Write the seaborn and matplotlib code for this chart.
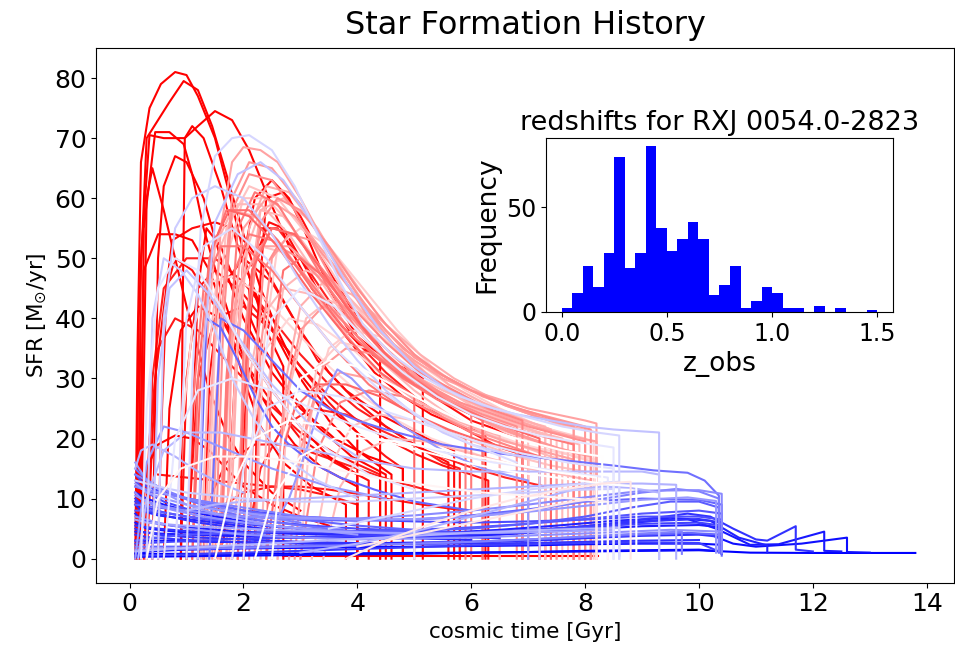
import matplotlib
matplotlib.use("Agg")
import matplotlib.pyplot as plt
import pandas as pd
import seaborn as sns

# ---------------- data ----------------
# Star-formation histories: knots (cosmic time [Gyr], SFR [Msun/yr]) and colour value (0=blue .. 1=red)
CURVE_TIME = [
    # bright / medium red
    [0.1, 0.14, 0.2, 0.35, 0.55, 0.8, 1.0, 1.2, 1.5, 1.8, 2.1, 2.4, 2.7, 2.7],
    [0.12, 0.16, 0.3, 0.5, 0.7, 0.95, 1.2, 1.45, 1.7, 2.0, 2.3, 2.6, 3.0, 3.5, 4.0, 4.6, 4.6],
    [0.15, 0.2, 0.35, 0.6, 0.97, 1.2, 1.5, 1.8, 2.1, 2.4, 2.8, 3.2, 3.6, 4.0, 4.4, 4.4],
    [0.18, 0.25, 0.45, 0.7, 0.95, 1.1, 1.3, 1.6, 1.9, 2.2, 2.5, 2.9, 3.4, 4.0, 4.0],
    [0.2, 0.3, 0.4, 0.6, 0.8, 1.0, 1.2, 1.4, 1.7, 2.0, 2.5, 3.0],
    [0.15, 0.25, 0.5, 0.8, 1.1, 1.4, 1.7, 2.0, 2.3, 2.7, 3.2, 3.8, 3.8],
    [0.3, 0.45, 0.75, 1.1, 1.5, 1.8, 2.1, 2.4, 2.7, 3.0, 3.3, 3.8, 4.4, 5.0, 5.7, 5.7],
    [0.9, 0.93, 0.97, 1.1, 1.3, 1.6, 1.9, 2.3, 2.8, 3.4, 4.0, 4.0],
    [0.15, 0.3, 0.5, 0.8, 1.1, 1.4, 1.7, 2.0, 2.5, 3.0, 3.5],
    [1.5, 1.65, 1.75, 1.85, 2.0, 2.2, 2.5, 2.8, 3.1, 3.5, 4.0, 4.5, 5.0, 5.15, 5.15],
    [1.8, 1.95, 2.05, 2.2, 2.45, 2.7, 3.0, 3.4, 3.8, 4.3, 4.8, 5.3, 5.8, 6.25, 6.25],
    [2.2, 2.25, 2.4, 2.7, 3.0, 3.5, 4.0, 4.5, 5.0, 5.5, 6.0, 6.9, 6.9],
    [0.4, 0.45, 0.5, 0.6, 0.8, 1.0, 1.3, 1.6, 2.0, 2.5, 3.0, 3.6, 4.2, 4.8, 4.8],
    [1.0, 1.1, 1.2, 1.35, 1.6, 1.9, 2.3, 2.8, 3.3, 3.9, 4.5, 4.5],
    [0.5, 0.55, 0.65, 0.8, 1.1, 1.5, 2.0, 2.5, 3.0, 3.6, 4.2, 4.2],
    [2.0, 2.1, 2.3, 2.6, 3.0, 3.5, 4.0, 4.5, 5.0, 5.5, 6.0, 6.5, 7.0, 7.0],
    [0.3, 0.4, 0.6, 1.0, 1.5, 2.0, 2.5, 3.0, 3.5, 4.0, 4.5, 5.0, 5.5, 5.8, 5.8],
    [1.0, 1.2, 1.5, 2.0, 2.5, 3.0, 3.5, 4.0, 4.5, 4.8, 4.8],
    [0.5, 1.0, 1.5, 2.0, 2.5, 3.0, 3.5, 4.0],
    [0.6, 0.7, 0.9, 1.2, 1.6, 2.0, 2.5, 3.0, 3.5, 4.0, 4.0],
    [1.3, 1.4, 1.6, 2.0, 2.5, 3.0, 3.5, 4.0, 4.5, 5.0, 5.6, 5.6],
    [0.25, 0.35, 0.5, 0.8, 1.2, 1.7, 2.3, 3.0, 3.7, 4.4, 4.4],
    [2.0, 2.3, 2.7, 3.2, 3.8, 4.5, 5.2, 5.9, 6.6, 7.3, 7.3],
    [1.5, 2.0, 2.5, 3.0, 3.5, 4.0, 4.5, 5.0, 5.5, 6.0],
    [2.7, 4.0, 5.5, 7.0, 8.22],
    [0.9, 1.0, 1.2, 1.5, 2.0, 2.5, 3.0, 3.5, 4.0, 4.5, 5.0, 5.5, 6.0, 6.3, 6.3],
    [1.2, 1.4, 1.7, 2.2, 2.8, 3.4, 4.0, 4.6, 5.2, 5.8, 5.8],
    # pink bundle
    [1.3, 1.45, 1.6, 1.8, 2.0, 2.3, 2.6, 3.0, 3.4, 3.8, 4.2, 4.6, 5.0, 5.5, 6.0, 6.5, 7.0, 7.5, 8.0, 8.2, 8.2],
    [1.5, 1.65, 1.8, 2.1, 2.5, 2.9, 3.3, 3.7, 4.1, 4.6, 5.2, 5.8, 6.4, 7.0, 7.6, 8.0, 8.0],
    [1.6, 1.75, 1.9, 2.2, 2.6, 3.0, 3.5, 4.0, 4.5, 5.0, 5.6, 6.2, 6.8, 7.4, 7.8, 7.8],
    [1.7, 1.85, 2.0, 2.3, 2.7, 3.1, 3.6, 4.1, 4.6, 5.2, 5.8, 6.4, 7.0, 7.6, 7.6],
    [1.9, 2.0, 2.15, 2.5, 2.9, 3.3, 3.8, 4.3, 4.8, 5.4, 6.0, 6.6, 7.2, 7.2],
    [1.4, 1.5, 1.7, 2.0, 2.4, 2.8, 3.2, 3.7, 4.2, 4.8, 5.4, 6.0, 6.6, 7.0, 7.0],
    [2.1, 2.2, 2.35, 2.6, 3.0, 3.5, 4.0, 4.5, 5.0, 5.6, 6.2, 6.8, 6.8],
    [1.2, 1.3, 1.5, 1.8, 2.2, 2.6, 3.0, 3.5, 4.0, 4.5, 5.0, 5.5, 6.0, 6.5, 6.5],
    [2.4, 2.5, 2.7, 3.0, 3.4, 3.9, 4.4, 5.0, 5.6, 6.2, 6.2],
    [1.8, 2.0, 2.3, 2.7, 3.2, 3.8, 4.4, 5.0, 5.6, 6.2, 6.8, 7.4, 8.0, 8.0],
    [2.5, 2.7, 3.0, 3.4, 3.9, 4.5, 5.1, 5.7, 6.3, 6.9, 7.5, 7.5],
    [1.0, 1.1, 1.3, 1.6, 2.0, 2.5, 3.0, 3.6, 4.2, 4.8, 5.4, 5.9, 5.9],
    [2.8, 3.0, 3.3, 3.7, 4.2, 4.8, 5.4, 6.0, 6.6, 7.2, 7.8, 8.2, 8.2],
    [0.8, 0.9, 1.1, 1.4, 1.8, 2.3, 2.9, 3.5, 4.1, 4.7, 5.3, 5.9, 6.5, 6.5],
    [1.55, 1.7, 1.9, 2.3, 2.8, 3.4, 4.0, 4.6, 5.2, 5.8, 6.4, 7.0, 7.6, 8.1, 8.1],
    [3.0, 3.3, 3.7, 4.2, 4.8, 5.4, 6.0, 6.6, 7.2, 7.2],
    [1.1, 1.25, 1.45, 1.75, 2.1, 2.6, 3.2, 3.8, 4.4, 5.0, 5.0],
    [2.2, 2.35, 2.6, 3.0, 3.5, 4.1, 4.7, 5.3, 5.9, 6.5, 7.1, 7.7, 8.15, 8.15],
    [1.9, 2.05, 2.3, 2.7, 3.2, 3.8, 4.4, 5.0, 5.6, 6.2, 6.8, 7.4, 7.4],
    [2.6, 2.8, 3.1, 3.5, 4.0, 4.6, 5.2, 5.8, 6.4, 7.0, 7.7, 7.7],
    [2.3, 2.45, 2.7, 3.1, 3.6, 4.2, 4.8, 5.4, 6.0, 6.6, 7.2, 7.9, 7.9],
    [1.7, 1.8, 2.0, 2.4, 2.9, 3.5, 4.1, 4.7, 5.3, 5.9, 6.5, 7.1, 7.7, 8.2, 8.2],
    [1.35, 1.5, 1.7, 2.1, 2.6, 3.2, 3.8, 4.4, 5.0, 5.6, 6.2, 6.8, 7.3, 7.3],
    [2.0, 2.15, 2.4, 2.8, 3.3, 3.9, 4.5, 5.1, 5.7, 6.3, 6.9, 7.6, 8.2, 8.2],
    [3.2, 3.5, 3.9, 4.4, 5.0, 5.6, 6.2, 6.8, 7.4, 8.0, 8.0],
    [2.9, 3.1, 3.4, 3.8, 4.3, 4.9, 5.5, 6.1, 6.7, 7.3, 7.9, 7.9],
    [1.6, 1.7, 1.85, 2.1, 2.5, 3.0, 3.6, 4.2, 4.8, 5.4, 6.0, 6.0],
    [2.4, 2.6, 2.9, 3.3, 3.8, 4.4, 5.0, 5.6, 6.2, 6.8, 7.4, 7.4],
    [1.45, 1.6, 1.8, 2.1, 2.5, 3.0, 3.5, 4.0, 4.5, 5.0, 5.6, 6.2, 6.8, 7.4, 8.0, 8.0],
    [1.75, 1.9, 2.1, 2.4, 2.8, 3.3, 3.8, 4.3, 4.8, 5.4, 6.0, 6.6, 7.2, 7.8, 7.8],
    [2.0, 2.1, 2.3, 2.6, 3.0, 3.5, 4.0, 4.5, 5.0, 5.5, 6.0, 6.5, 7.0, 7.5, 8.1, 8.1],
    [1.25, 1.4, 1.6, 1.9, 2.3, 2.8, 3.3, 3.8, 4.3, 4.9, 5.5, 6.1, 6.7, 7.3, 7.3],
    [2.2, 2.3, 2.5, 2.8, 3.2, 3.7, 4.2, 4.8, 5.4, 6.0, 6.6, 7.2, 7.8, 7.8],
    [2.6, 2.75, 3.0, 3.4, 3.9, 4.5, 5.1, 5.7, 6.3, 6.9, 7.5, 8.2, 8.2],
    [1.9, 2.0, 2.2, 2.5, 2.9, 3.4, 3.9, 4.5, 5.1, 5.7, 6.3, 6.9, 6.9],
    [3.0, 3.2, 3.5, 3.9, 4.4, 5.0, 5.6, 6.2, 6.8, 7.4, 8.0, 8.0],
    [1.6, 1.75, 1.95, 2.3, 2.7, 3.2, 3.8, 4.4, 5.0, 5.6, 6.2, 6.8, 7.5, 7.5],
    [2.8, 3.0, 3.3, 3.7, 4.2, 4.8, 5.4, 6.0, 6.6, 7.2, 7.8, 7.8],
    [3.4, 3.7, 4.1, 4.6, 5.2, 5.8, 6.4, 7.0, 7.6, 8.1, 8.1],
    [1.1, 1.2, 1.4, 1.7, 2.1, 2.6, 3.2, 3.8, 4.4, 5.0, 5.6, 6.2, 6.2],
    # light blue / white
    [1.0, 1.1, 1.25, 1.5, 1.8, 2.1, 2.5, 2.9, 3.3, 3.7, 4.1, 4.6, 5.2, 5.8, 6.4, 7.0, 7.6, 8.2, 8.6, 8.6],
    [0.5, 0.6, 0.8, 1.1, 1.5, 2.0, 2.5, 3.0, 3.5, 4.0, 4.5, 5.0, 5.5, 6.0, 6.6, 7.2, 7.2],
    [1.2, 1.3, 1.5, 1.9, 2.3, 2.7, 3.2, 3.8, 4.4, 5.0, 5.6, 6.2, 6.8, 7.4, 8.0, 8.5, 9.3, 9.3],
    [0.1, 0.3, 0.6, 1.0, 1.5, 2.0, 2.5, 3.5, 4.5],
    [0.3, 0.4, 0.6, 0.9, 1.2, 1.5, 1.8, 2.2, 2.7, 3.3, 4.0],
    [2.0, 2.2, 2.5, 3.0, 3.6, 4.2, 4.8, 5.4, 6.0, 6.6, 7.2, 7.8, 8.5, 8.5],
    [2.5, 2.7, 3.0, 3.5, 4.0, 4.6, 5.2, 5.8, 6.4, 7.0, 7.6, 8.3, 8.3],
    [0.2, 0.3, 0.5, 0.8, 1.2, 1.6, 2.0, 2.5, 3.0, 3.5, 4.2, 5.0, 5.0],
    [3.5, 4.0, 5.0, 6.0, 7.0, 8.0, 8.6, 8.6],
    [0.1, 0.5, 1.0, 2.0, 3.0, 4.0, 5.0, 6.0, 7.0, 8.0, 8.5],
    [3.0, 4.0, 5.0, 6.0, 7.0, 7.8, 8.3, 8.8, 9.3, 9.3],
    [4.0, 5.0, 6.0, 7.0, 7.8, 8.2, 8.2],
    [0.6, 0.8, 1.2, 1.8, 2.5, 3.2, 4.0, 4.8, 5.6, 6.4, 7.2, 8.0, 8.4, 8.4],
    [1.5, 1.8, 2.2, 2.8, 3.5, 4.3, 5.1, 5.9, 6.7, 7.5, 8.3, 8.9, 8.9],
    [0.3, 0.5, 0.9, 1.5, 2.2, 3.0, 3.8, 4.6, 5.4, 6.2, 7.0, 7.8, 8.4, 8.4],
    [0.8, 1.0, 1.3, 1.8, 2.4, 3.0, 3.6, 4.4, 5.2, 6.0, 6.8],
    [0.4, 0.5, 0.7, 1.0, 1.4, 1.9, 2.5, 3.2, 4.0],
    [3.8, 4.5, 5.2, 6.0, 6.8, 7.6, 8.3, 8.8, 8.8],
    [1.0, 1.5, 2.0, 3.0, 4.0, 5.0, 6.0, 7.0, 8.0, 9.0, 9.6, 9.6],
    [1.8, 2.0, 2.4, 3.0, 3.7, 4.5, 5.3, 6.1, 6.9, 7.7, 8.5, 8.5],
    [2.2, 2.5, 3.0, 3.6, 4.3, 5.0, 5.8, 6.6, 7.4, 8.2, 8.2],
    [0.15, 0.3, 0.6, 1.0, 1.6, 2.4, 3.2, 4.0, 5.0, 6.0, 7.0, 8.0, 9.0, 9.3, 9.3],
    # blue
    [0.1, 2.0, 4.0, 6.0, 8.0, 10.0, 10.9, 12.0, 12.8, 13.8],
    [0.1, 0.3, 0.6, 1.0, 1.5, 2.0, 3.0, 4.0, 5.0, 6.0, 7.0, 8.0, 9.0, 10.0, 10.4, 10.4],
    [0.1, 0.3, 0.7, 1.2, 2.0, 3.0, 4.0, 5.0, 6.0, 7.0, 8.0, 9.0, 9.8, 10.2, 10.6, 11.0, 11.2, 11.7, 11.7, 12.0],
    [1.4, 1.6, 2.0, 2.5, 3.0, 3.5, 4.0, 4.5, 5.5, 6.5, 7.5, 8.5, 9.2, 9.8, 10.1, 10.35, 10.35],
    [0.1, 0.5, 1.0, 2.0, 3.0, 4.0, 5.0, 6.0, 7.0, 8.0, 9.0, 9.6, 10.0, 10.35, 10.35],
    [0.1, 0.4, 1.0, 2.0, 3.0, 4.0, 5.0, 6.0, 7.0, 8.0, 8.8, 9.5, 10.0, 10.35, 10.35],
    [0.1, 0.3, 0.8, 1.5, 2.5, 3.5, 4.5, 5.5, 6.5, 7.5, 8.5, 9.3, 9.8, 10.3, 10.9, 11.4, 12.2, 12.2, 12.5],
    [0.1, 0.5, 1.5, 3.0, 4.5, 6.0, 7.5, 8.5, 9.5, 10.2, 10.6, 11.0, 11.8, 12.6, 12.6, 13.0],
    [0.1, 0.3, 0.6, 1.0, 1.5, 2.0, 2.5, 3.0, 3.5, 4.0],
    [0.1, 0.2, 0.5, 1.0, 1.5, 2.0, 2.5, 3.0, 4.0, 5.0, 6.0],
    [0.1, 0.4, 0.8, 1.3, 2.0, 3.0, 4.0, 5.0],
    [0.1, 0.2, 0.5, 1.0, 2.0, 3.0, 4.0, 5.0, 6.0, 7.0, 8.0, 9.0, 10.0],
    [2.5, 2.8, 3.1, 3.4, 3.65, 3.9, 4.3, 4.8, 5.5, 6.2, 7.0, 7.0],
    [1.2, 1.35, 1.6, 1.9, 2.2, 2.5, 2.8, 3.2, 3.7, 4.3, 5.0, 6.0],
    [0.1, 0.2, 0.4, 0.8, 1.2, 1.6, 2.0],
    [0.1, 1.0, 2.0, 3.0, 4.0, 5.0, 6.0, 7.0, 8.0, 9.0, 9.7, 9.7],
    [0.1, 1.0, 2.0, 3.0, 4.0, 5.0, 6.0, 7.0, 8.0, 9.0, 10.0, 10.4],
    [0.1, 0.5, 1.0, 2.0, 3.0, 4.0, 6.0, 8.0, 9.5, 10.4],
    [0.1, 0.3, 0.6, 1.0, 1.5, 2.5, 3.5, 4.5, 5.5],
    [0.1, 0.5, 1.0, 2.0, 3.0, 4.0, 5.0, 6.0, 7.0, 8.0, 9.0, 10.0, 10.4, 10.4],
    [0.1, 0.3, 0.7, 1.2, 2.0, 3.0, 4.0, 5.0, 6.0, 7.0, 8.0, 9.0, 10.0, 10.4, 10.4],
    [0.1, 0.2, 0.5, 1.0, 1.8, 2.6, 3.5, 4.5, 5.5, 6.5, 7.5, 8.5, 9.5, 10.2, 10.7, 11.2, 11.2],
    [0.1, 0.3, 0.6, 1.0, 1.6, 2.4, 3.2, 4.0, 5.0, 6.0],
    [0.1, 0.4, 1.0, 2.0, 3.0, 4.0, 5.0, 6.0, 7.0, 8.0, 9.0, 9.8, 10.4, 10.4],
    [0.1, 0.5, 1.0, 1.5, 2.0, 3.0, 4.0, 5.0, 6.0, 7.0, 8.0, 9.0, 10.0, 10.4],
    [0.1, 0.3, 0.6, 1.0, 1.5, 2.0, 3.0, 4.0, 5.0, 6.0, 7.0, 8.0, 9.0, 10.0, 10.4, 10.4],
    [0.1, 0.2, 0.4, 0.7, 1.1, 1.6, 2.2, 3.0, 4.0],
    [0.1, 0.5, 1.0, 2.0, 3.0, 4.0, 5.0, 6.0, 7.0, 8.0, 9.0, 10.0, 10.4, 10.4],
    [0.1, 0.3, 0.8, 1.5, 2.5, 3.5, 4.5, 5.5, 6.5, 7.5, 8.5],
    [0.1, 0.3, 0.6, 1.0, 1.5, 2.2, 3.0, 4.0, 5.0, 6.0, 7.0, 8.0, 9.0, 9.8, 10.3, 10.3],
    [0.1, 0.3, 0.6, 1.0, 1.6, 2.4, 3.4, 4.5, 5.5, 6.5],
    [0.1, 0.5, 1.0, 2.0, 3.0, 4.0, 5.0, 6.0, 7.0, 8.0, 9.0, 10.0, 10.4, 10.4],
    [0.1, 0.4, 1.0, 2.0, 3.0, 4.0, 5.0, 6.0, 7.0, 8.0, 8.6, 8.6],
    [0.1, 0.2, 0.4, 0.8, 1.3, 2.0, 2.8, 3.8, 5.0],
    [0.1, 0.3, 0.7, 1.2, 2.0, 3.0, 4.0, 5.0, 6.0, 7.0, 8.0, 9.0, 10.0, 10.4, 10.4],
    [0.1, 1.0, 2.0, 3.0, 4.0, 5.0, 6.0, 7.0, 8.0, 9.0, 10.0, 10.4],
    [0.1, 0.3, 0.6, 1.0, 1.4, 1.8, 2.3, 3.0],
    [0.1, 0.5, 1.0, 2.0, 3.0, 4.0, 5.0, 6.0, 7.0, 8.0, 9.0, 10.0, 10.4, 10.4],
]

CURVE_SFR = [
    # bright / medium red
    [0, 35, 66, 75, 79, 81, 80.5, 77, 70, 59, 47, 38, 32, 0],
    [0, 40, 70, 73, 76, 79.5, 78, 72, 64, 54, 45, 38, 30, 23, 18, 14, 0],
    [0, 50, 70.5, 70, 70, 72, 74.5, 73, 68, 61, 52, 45, 40, 36, 33, 0],
    [0, 55, 71, 71, 69, 64, 55, 45, 36, 29, 24, 19, 15, 12, 0],
    [0, 60, 65, 58, 50, 42, 35, 28, 21, 16, 11, 8],
    [0, 48, 54, 54, 53, 48, 40, 30, 22, 16, 12, 9, 0],
    [0, 30, 53, 55, 56, 55, 52, 48, 43, 38, 33, 28, 24, 21, 18, 0],
    [0, 40, 70, 72, 70, 62, 52, 42, 33, 26, 21, 0],
    [0, 15, 19, 20.5, 20, 18, 15, 12, 9, 7, 5.5],
    [0, 3, 12, 30, 50, 60, 63, 60, 54, 45, 37, 33, 31, 30, 0],
    [0, 10, 30, 50, 56, 55, 50, 43, 37, 31, 27, 24, 22, 21, 0],
    [0, 40, 60, 61, 57, 48, 40, 34, 29, 26, 23, 20, 0],
    [0, 25, 50, 62, 67, 66, 60, 50, 40, 31, 25, 20, 17, 15, 0],
    [0, 20, 45, 55, 52, 45, 36, 28, 22, 17, 14, 0],
    [0, 20, 45, 50, 48, 42, 33, 26, 20, 16, 13, 0],
    [0, 45, 55, 55, 50, 43, 36, 31, 27, 23.5, 21, 18.5, 17, 0],
    [0, 30, 45, 50, 50, 46, 40, 34, 29, 25, 22, 19, 16, 15, 0],
    [0, 30, 40, 42, 38, 32, 26, 21, 17, 15, 0],
    [14, 13.5, 13, 12.5, 12, 11.5, 10.5, 9],
    [0, 25, 38, 42, 40, 35, 28, 22, 17, 14, 0],
    [0, 30, 45, 50, 46, 38, 31, 26, 22, 19, 16, 0],
    [0, 20, 35, 40, 38, 33, 27, 21, 17, 14, 0],
    [0, 15, 22, 25, 24, 21, 18, 15.5, 13.5, 12, 0],
    [8, 11, 12, 12, 11.5, 10.8, 10, 9.2, 8.5, 7.8],
    [0.4, 0.4, 0.4, 0.4, 0.4],
    [0, 30, 45, 48, 44, 38, 32, 27, 23, 20, 17.5, 15.5, 14, 13, 0],
    [0, 10, 16, 19, 19, 17, 15, 13, 11.5, 10, 0],
    # pink bundle
    [0, 30, 55, 66, 68.5, 68, 66, 60, 53, 46, 40, 36, 33, 30, 28, 26.5, 25, 24, 23, 22.5, 0],
    [0, 40, 58, 64, 63, 58, 51, 44, 38, 33, 29, 26, 24, 22, 20.5, 19.5, 0],
    [0, 35, 55, 61, 59, 53, 45, 38, 33, 29, 26, 23.5, 21.5, 20, 19, 0],
    [0, 30, 50, 58, 57, 52, 45, 38, 33, 29, 26, 23.5, 21.5, 20, 0],
    [0, 25, 48, 55, 54, 49, 42, 36, 31, 27, 24, 22, 20, 0],
    [0, 25, 50, 60, 60, 56, 50, 42, 36, 31, 27, 24.5, 22.5, 21.5, 0],
    [0, 30, 48, 52, 50, 45, 39, 34, 30, 26.5, 24, 22, 0],
    [0, 30, 52, 58, 57, 53, 48, 41, 35, 30, 26.5, 24, 22, 20.5, 0],
    [0, 35, 48, 50, 47, 41, 35, 30, 26, 23, 0],
    [0, 25, 40, 45, 44, 39, 33, 28, 24, 21, 19, 17, 15.5, 0],
    [0, 25, 38, 42, 40, 35, 30, 26, 23, 20.5, 18.5, 0],
    [0, 25, 45, 52, 52, 48, 42, 35, 29, 25, 22, 20, 0],
    [0, 20, 32, 36, 35, 31, 27, 24, 21, 19, 17, 16, 0],
    [0, 20, 38, 46, 47, 44, 38, 32, 27, 23, 20, 18, 16, 0],
    [0, 28, 45, 52, 52, 47, 40, 34, 29, 25, 22, 20, 18, 17, 0],
    [0, 18, 26, 28, 27, 24, 21, 19, 17, 0],
    [0, 30, 52, 58, 57, 52, 44, 37, 31, 27, 0],
    [0, 35, 52, 55, 52, 45, 38, 32, 28, 25, 22.5, 20.5, 19.5, 0],
    [0, 40, 58, 60, 56, 48, 40, 34, 29, 26, 23.5, 21.5, 0],
    [0, 28, 40, 43, 41, 36, 31, 27, 24, 21.5, 19.5, 0],
    [0, 30, 45, 48, 46, 40, 34, 29, 25.5, 23, 21, 19, 0],
    [0, 38, 55, 60, 57, 50, 42, 35, 30, 26.5, 24, 22, 20.5, 19.5, 0],
    [0, 35, 55, 62, 60, 53, 44, 37, 32, 28, 25, 23, 21.5, 0],
    [0, 20, 35, 40, 39, 35, 30, 26, 23, 21, 19, 17.5, 16.5, 0],
    [0, 15, 22, 24, 23, 21, 19, 17, 15.5, 14.5, 0],
    [0, 22, 32, 35, 34, 30, 26.5, 23.5, 21, 19, 17.5, 0],
    [0, 30, 48, 54, 53, 48, 41, 35, 30, 26.5, 24, 0],
    [0, 15, 25, 29, 29, 27, 24, 21.5, 19.5, 18, 16.5, 0],
    [0, 40, 60, 66, 65, 59, 51, 44, 38, 33.5, 30, 27, 25, 23.5, 22, 0],
    [0, 35, 55, 62, 61, 55, 47, 40, 35, 31, 28, 25.5, 23.5, 22, 0],
    [0, 40, 56, 60, 58, 52, 45, 39, 34, 30.5, 28, 26, 24.5, 23, 21.5, 0],
    [0, 35, 52, 59, 59, 54, 47, 40, 35, 31, 28, 25.5, 23.5, 22, 0],
    [0, 35, 50, 54, 53, 47, 41, 35, 31, 28, 25.5, 23.5, 22, 0],
    [0, 30, 42, 46, 44, 39, 34, 30, 27, 24.5, 22.5, 21, 0],
    [0, 35, 50, 55, 54, 48, 42, 36, 31, 28, 25, 23, 0],
    [0, 25, 35, 38, 37, 33, 29, 26, 23.5, 21.5, 20, 0],
    [0, 30, 46, 52, 51, 46, 39, 33, 29, 26, 23.5, 21.5, 20, 0],
    [0, 18, 28, 31, 30, 27, 24, 21.5, 19.5, 18, 16.5, 0],
    [0, 12, 18, 20, 19.5, 18, 16.5, 15, 14, 13, 0],
    [0, 30, 50, 58, 58, 53, 45, 38, 33, 29, 26, 23.5, 0],
    # light blue / white
    [0, 30, 55, 67, 70, 70.5, 68, 62, 54, 46, 39, 34, 30, 27, 25, 23.5, 22, 21, 20.5, 0],
    [0, 40, 55, 60, 62, 60, 54, 46, 39, 33, 28, 24, 21, 19, 17.5, 16.5, 0],
    [0, 35, 56, 64, 66, 63, 56, 46, 38, 32, 28, 25.5, 24, 23, 22, 21.5, 21, 0],
    [0, 16, 22, 21, 19, 17, 15, 12, 10],
    [0, 40, 50, 48, 44, 38, 30, 23, 17, 13, 10],
    [0, 25, 40, 45, 42, 36, 31, 27, 24, 22, 20.5, 19.5, 18.5, 0],
    [0, 20, 30, 33, 32, 29, 26, 23, 21, 19.5, 18, 17, 0],
    [0, 25, 45, 50, 48, 42, 35, 28, 22, 18, 14, 11.5, 0],
    [5, 6, 8, 10, 11.5, 12.5, 12.8, 0],
    [13, 12, 11, 10, 9.5, 9.5, 10, 10.5, 11, 11.5, 11.6],
    [1, 2.5, 4.5, 7, 9.5, 11.5, 12, 11.8, 11, 0],
    [2, 4, 6, 8, 9.5, 10, 0],
    [0, 20, 28, 30, 28, 25, 22, 19.5, 17.5, 16, 15, 14, 13.5, 0],
    [0, 12, 20, 23, 22, 20, 18, 16, 14.5, 13.5, 12.5, 12, 0],
    [0, 10, 15, 17, 17, 16, 14.5, 13, 12, 11, 10.5, 10, 9.5, 0],
    [0, 40, 52, 55, 50, 42, 35, 28, 23, 19, 16],
    [0, 30, 45, 48, 44, 37, 29, 22, 17],
    [0, 3, 5.5, 8, 10, 11.5, 12.5, 12.8, 0],
    [8, 9, 9.5, 10, 10.5, 11, 11.5, 12, 12.5, 12.5, 12.3, 0],
    [0, 15, 25, 28, 27, 24.5, 22, 19.5, 17.5, 16, 15, 0],
    [0, 10, 17, 20, 20, 19, 17.5, 16, 14.5, 13.5, 0],
    [0, 10, 18, 21, 21, 19.5, 18, 16.5, 15, 14.5, 14.5, 14.5, 14.5, 14, 0],
    # blue
    [0.8, 0.8, 0.9, 1.0, 1.2, 1.4, 1.0, 0.95, 0.95, 0.95],
    [14, 12, 11, 10, 9, 8, 7, 6.5, 6.2, 6, 6.2, 6.5, 7, 7, 6.5, 1],
    [10, 8, 7, 6, 5, 4.5, 4, 4, 4.2, 4.6, 5.4, 6.5, 7.5, 7, 5, 3.2, 3, 5.4, 1.5, 1.2],
    [0, 40, 38, 33, 28, 25, 23, 21.5, 19, 17.5, 16.5, 15.5, 14.7, 14.3, 13, 10.5, 1.5],
    [12, 11, 10, 8.5, 7, 6.5, 6.5, 7, 8, 9.5, 11, 11.6, 11.2, 10, 1.2],
    [8, 8, 7, 6, 5, 4.5, 4.6, 5, 5.8, 7, 8.5, 9.5, 9.5, 8.5, 1],
    [6, 5, 4.5, 4, 3.6, 3.4, 3.4, 3.6, 4, 4.7, 5.6, 6.4, 6.6, 5, 2.3, 2.4, 4.5, 1.3, 1.2],
    [3, 3, 2.8, 2.6, 2.6, 2.8, 3.2, 3.8, 4.3, 4.0, 2.5, 2, 2.5, 3.5, 1.1, 1.0],
    [16, 13, 11, 9, 7.5, 6.5, 5.5, 5, 4.5, 4],
    [9, 8, 7.2, 6.6, 6, 5.4, 4.8, 4.4, 3.8, 3.4, 3.1],
    [12, 11, 10.5, 9.5, 8, 6.5, 5.5, 4.8],
    [5, 4.5, 4, 3.6, 3.2, 2.8, 2.6, 2.5, 2.5, 2.6, 2.8, 3, 3.1],
    [5, 10, 18, 27, 31.5, 30, 26, 22, 18, 15, 13, 0],
    [0, 40, 38.5, 33, 27, 22, 19, 16, 13.5, 11.5, 9.5, 8],
    [15, 18, 19, 17, 14.5, 12.5, 11],
    [1.5, 1.6, 1.8, 2, 2.2, 2.5, 2.8, 3.2, 3.7, 4.2, 4.5, 0.8],
    [0.5, 0.7, 1, 1.3, 1.6, 1.9, 2.2, 2.4, 2.6, 2.7, 2.6, 1.0],
    [7, 6, 5, 4, 3.5, 3.2, 3.5, 4.2, 4.8, 4.5],
    [11, 10, 9, 8, 7, 5.5, 4.5, 3.8, 3.3],
    [9, 8.5, 8, 7, 6.5, 6.3, 6.5, 7.2, 8.2, 9.5, 10, 9.8, 9, 1],
    [4, 3.6, 3.3, 3, 2.7, 2.5, 2.4, 2.5, 2.7, 3.0, 3.4, 3.8, 4.0, 3.6, 0.8],
    [7.5, 6.5, 5.8, 5.2, 4.6, 4.2, 4, 4, 4.3, 4.8, 5.5, 6.3, 6.8, 6.3, 3.5, 2.2, 1.0],
    [13, 11, 9.5, 8.3, 7.2, 6.2, 5.5, 5, 4.6, 4.3],
    [2, 2, 2, 2, 2.1, 2.3, 2.5, 2.8, 3.2, 3.6, 4.0, 4.3, 4.0, 0.5],
    [1, 1.3, 1.5, 1.6, 1.7, 1.8, 1.9, 2, 2.1, 2.2, 2.4, 2.5, 2.5, 2.3],
    [10.5, 9.5, 8.7, 8, 7.4, 7, 6.6, 6.7, 7.2, 8, 9, 10.2, 11.3, 11.4, 10.8, 1],
    [15, 14, 12.5, 11, 9.5, 8, 6.5, 5.5, 4.5],
    [3, 3.5, 4, 4.3, 4.5, 4.6, 4.8, 5.2, 5.8, 6.6, 7.5, 8, 7.5, 0.9],
    [6.5, 6, 5.6, 5.2, 4.8, 4.5, 4.3, 4.2, 4.3, 4.5, 4.8],
    [12.5, 11, 10, 9, 8.2, 7.4, 6.8, 6.5, 6.6, 7, 7.8, 8.8, 9.8, 10.2, 9.6, 1],
    [9.5, 8.5, 7.7, 7, 6.2, 5.4, 4.7, 4.1, 3.7, 3.4],
    [5.5, 5, 4.6, 4, 3.6, 3.5, 3.6, 4, 4.6, 5.4, 6.2, 6.6, 6, 1],
    [1.2, 1.4, 1.8, 2.3, 2.8, 3.3, 3.8, 4.3, 4.7, 5.0, 5.1, 0.5],
    [11, 10, 9, 8, 7, 6, 5.2, 4.5, 4],
    [2.5, 2.6, 2.8, 3.0, 3.3, 3.6, 3.8, 4.1, 4.4, 4.8, 5.3, 5.8, 6.0, 5.5, 1],
    [0.3, 0.4, 0.5, 0.6, 0.7, 0.8, 1.0, 1.1, 1.3, 1.4, 1.5, 1.2],
    [14, 13, 11.5, 10, 9, 8, 7, 6],
    [4.5, 4.2, 4.0, 3.7, 3.5, 3.4, 3.5, 3.8, 4.3, 4.9, 5.4, 5.6, 5.2, 0.8],
]

CURVE_COLOR = [
    # bright / medium red
    1.0, 1.0, 1.0, 1.0, 1.0, 1.0, 0.98, 1.0, 0.99, 1.0, 0.98, 0.97, 1.0, 0.99, 0.97,
    0.93, 0.94, 0.96, 0.95, 1.0, 0.97, 0.95, 0.92, 0.95, 1.0, 0.96, 0.93,
    # pink
    0.68, 0.72, 0.76, 0.64, 0.8, 0.62, 0.72, 0.66, 0.78, 0.64, 0.7, 0.76, 0.6, 0.58, 0.68,
    0.74, 0.8, 0.6, 0.66, 0.63, 0.64, 0.68, 0.62, 0.58, 0.62, 0.7, 0.76, 0.8,
    0.7, 0.66, 0.72, 0.64, 0.7, 0.66, 0.74, 0.6, 0.62, 0.68, 0.64, 0.78,
    # light blue / white
    0.42, 0.4, 0.38, 0.3, 0.4, 0.45, 0.5, 0.45, 0.42, 0.4, 0.35, 0.55,
    0.45, 0.5, 0.52, 0.43, 0.38, 0.55, 0.35, 0.44, 0.5, 0.36,
    # blue
    0.0, 0.15, 0.1, 0.22, 0.25, 0.18, 0.05, 0.03, 0.3, 0.08, 0.2, 0.1, 0.3, 0.2, 0.35,
    0.25, 0.12, 0.28, 0.05, 0.2, 0.1, 0.07, 0.15, 0.2, 0.02, 0.27, 0.22, 0.17, 0.32,
    0.3, 0.12, 0.1, 0.35, 0.28, 0.13, 0.02, 0.25, 0.06,
]

# Redshift histogram (inset)
Z_BIN_EDGES = [round(0.05 * i, 2) for i in range(31)]
Z_COUNTS = [2, 9, 22, 12, 28, 74, 21, 28, 79, 40, 29, 35, 43, 35, 8,
            13, 22, 2, 5, 12, 9, 2, 2, 0, 3, 0, 2, 0, 0, 1]

assert len(CURVE_TIME) == len(CURVE_SFR) == len(CURVE_COLOR), (
    len(CURVE_TIME), len(CURVE_SFR), len(CURVE_COLOR))
for k, (a, b) in enumerate(zip(CURVE_TIME, CURVE_SFR)):
    assert len(a) == len(b), (k, len(a), len(b))

# ---------------- build long-form tables ----------------
rows = []
for i, (ts, ss, c) in enumerate(zip(CURVE_TIME, CURVE_SFR, CURVE_COLOR)):
    for t, s in zip(ts, ss):
        rows.append({"curve": i, "t": t, "sfr": s, "c": c})
df = pd.DataFrame(rows)

z_centers = [(a + b) / 2 for a, b in zip(Z_BIN_EDGES[:-1], Z_BIN_EDGES[1:])]
hist_df = pd.DataFrame({"z_obs": z_centers, "count": Z_COUNTS})

# ---------------- figure ----------------
fig = plt.figure(figsize=(9.55, 6.55), dpi=100)
ax = fig.add_axes([0.1005, 0.1104, 0.8985, 0.8163])

# drawing order: red, then pink, then light/blue on top
layers = [df[df["c"] >= 0.9], df[(df["c"] >= 0.56) & (df["c"] < 0.9)], df[df["c"] < 0.56]]
for layer in layers:
    sns.lineplot(data=layer, x="t", y="sfr", hue="c", units="curve", estimator=None,
                 sort=False, palette="bwr", hue_norm=(0, 1), legend=False,
                 linewidth=1.5, ax=ax)

ax.set_xlim(-0.59, 14.48)
ax.set_ylim(-4.0, 85.0)
ax.set_xticks(range(0, 15, 2))
ax.set_yticks(range(0, 81, 10))
ax.tick_params(labelsize=18)
ax.set_xlabel("cosmic time [Gyr]", fontsize=15.5)
ax.set_ylabel(r"SFR [M$_{\odot}$/yr]", fontsize=15.5)
ax.set_title("Star Formation History", fontsize=23, pad=10)

# inset histogram
ins = fig.add_axes([0.5717, 0.5237, 0.3634, 0.2656])
sns.histplot(data=hist_df, x="z_obs", weights="count", bins=Z_BIN_EDGES,
             color="blue", alpha=1.0, linewidth=0, edgecolor="blue", ax=ins)
ins.set_xlim(-0.075, 1.575)
ins.set_ylim(0, 83)
ins.set_xticks([0.0, 0.5, 1.0, 1.5])
ins.set_yticks([0, 50])
ins.tick_params(labelsize=17)
ins.set_xlabel("z_obs", fontsize=19)
ins.set_ylabel("Frequency", fontsize=19)
ins.set_title("redshifts for RXJ 0054.0-2823", fontsize=19.5)

fig.savefig("out.png", dpi=100)
